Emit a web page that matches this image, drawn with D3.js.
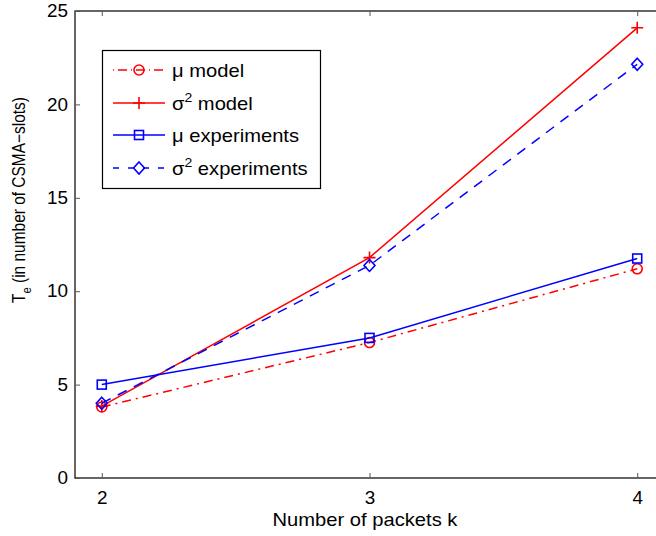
<!DOCTYPE html>
<html>
<head>
<meta charset="utf-8">
<script src="https://cdn.jsdelivr.net/npm/d3@7"></script>
<style>
  body { margin: 0; background: #fff; }
  svg { font-family: "Liberation Sans", Arial, sans-serif; }
</style>
</head>
<body>
<div class="chart"></div>
<script>
// values
var packets = [2, 3, 4];
var muModel = [3.8, 7.25, 11.2];
var sigmaModel = [3.85, 11.8, 24.1];
var muExp = [5.0, 7.5, 11.75];
var sigmaExp = [4.0, 11.38, 22.15];
var yTicks = [0, 5, 10, 15, 20, 25];
var seriesNames = ["μ model", "σ2 model", "μ experiments", "σ2 experiments"];

var width = 656, height = 536;
var margin = { top: 11, right: -8, bottom: 58, left: 75 };
var sx = 1.12; // the source figure is a little wider than tall, text too

var x = d3.scaleLinear().domain([1.9, 4.1]).range([margin.left, width - margin.right]);
var y = d3.scaleLinear().domain([0, 25]).range([height - margin.bottom, margin.top]);

var svg = d3.select(".chart")
  .append("svg")
  .attr("width", width)
  .attr("height", height);

// series table built from the arrays above
var series = [
  { name: seriesNames[0], base: "μ", sup: "", values: muModel, color: "#ff0000", dash: "9,5,2,5", marker: "circle" },
  { name: seriesNames[1], base: "σ", sup: "2", values: sigmaModel, color: "#ff0000", dash: null, marker: "plus" },
  { name: seriesNames[2], base: "μ", sup: "", values: muExp, color: "#0000ff", dash: null, marker: "square" },
  { name: seriesNames[3], base: "σ", sup: "2", values: sigmaExp, color: "#0000ff", dash: "10,8", marker: "diamond" }
];

// text placed at (tx,ty) and stretched sideways
function addText(parent, tx, ty, size) {
  return parent.append("text")
    .attr("transform", "translate(" + tx + "," + ty + ") scale(" + sx + ",1)")
    .attr("font-size", size);
}

// axes box
var x0 = x.range()[0], x1 = x.range()[1], y0 = y.range()[0], y1 = y.range()[1];
svg.append("rect")
  .attr("x", x0).attr("y", y1)
  .attr("width", x1 - x0).attr("height", y0 - y1)
  .attr("fill", "none").attr("stroke", "#000").attr("stroke-width", 1.2);

// bottom axis (ticks inside)
var xAxis = svg.append("g")
  .attr("transform", "translate(0," + y0 + ")")
  .call(d3.axisBottom(x).tickValues(packets).tickSize(-5).tickPadding(13).tickFormat(d3.format("d")));
xAxis.select(".domain").remove();
xAxis.selectAll("line").attr("stroke", "#555");
xAxis.selectAll("text")
  .attr("font-size", 18).attr("fill", "#000")
  .attr("font-family", "Liberation Sans, Arial, sans-serif")
  .attr("transform", "scale(1.05,1)");

// top ticks
var xTop = svg.append("g")
  .attr("transform", "translate(0," + y1 + ")")
  .call(d3.axisTop(x).tickValues(packets).tickSize(-5).tickFormat(""));
xTop.select(".domain").remove();
xTop.selectAll("line").attr("stroke", "#555");

// left axis
var yAxis = svg.append("g")
  .attr("transform", "translate(" + x0 + ",0)")
  .call(d3.axisLeft(y).tickValues(yTicks).tickSize(-5).tickPadding(7));
yAxis.select(".domain").remove();
yAxis.selectAll("line").attr("stroke", "#555");
yAxis.selectAll("text")
  .attr("font-size", 18).attr("fill", "#000")
  .attr("font-family", "Liberation Sans, Arial, sans-serif")
  .attr("x", -7 / 1.05)
  .attr("transform", "scale(1.05,1)");

// axis titles
addText(svg, 365, 526, 18)
  .attr("text-anchor", "middle")
  .text("Number of packets k");

var ylab = svg.append("text")
  .attr("transform", "translate(25,200) rotate(-90) scale(0.86,1)")
  .attr("text-anchor", "middle")
  .attr("font-size", 18);
ylab.append("tspan").text("T");
ylab.append("tspan").attr("font-size", 13).attr("dy", 6).text("e");
ylab.append("tspan").attr("dy", -6).text(" (in number of CSMA\u2212slots)");

// markers
function drawMarker(g, type, cx, cy, color) {
  if (type == "circle") {
    g.append("circle").attr("cx", cx).attr("cy", cy).attr("r", 5)
      .attr("fill", "none").attr("stroke", color).attr("stroke-width", 1.6);
  } else if (type == "square") {
    g.append("rect").attr("x", cx - 4.5).attr("y", cy - 4.5).attr("width", 9).attr("height", 9)
      .attr("fill", "none").attr("stroke", color).attr("stroke-width", 1.6);
  } else if (type == "diamond") {
    g.append("path")
      .attr("d", "M" + cx + "," + (cy - 6) + "L" + (cx + 5.5) + "," + cy + "L" + cx + "," + (cy + 6) + "L" + (cx - 5.5) + "," + cy + "Z")
      .attr("fill", "none").attr("stroke", color).attr("stroke-width", 1.6);
  } else if (type == "plus") {
    g.append("path")
      .attr("d", "M" + (cx - 6) + "," + cy + "H" + (cx + 6) + "M" + cx + "," + (cy - 6) + "V" + (cy + 6))
      .attr("fill", "none").attr("stroke", color).attr("stroke-width", 1.6);
  }
}

var line = d3.line()
  .x(function (d) { return x(d[0]); })
  .y(function (d) { return y(d[1]); });

var plot = svg.append("g");
series.forEach(function (s) {
  var pts = packets.map(function (p, i) { return [p, s.values[i]]; });
  plot.append("path")
    .datum(pts)
    .attr("d", line)
    .attr("fill", "none")
    .attr("stroke", s.color)
    .attr("stroke-width", 1.5)
    .attr("stroke-dasharray", s.dash);
  pts.forEach(function (d) {
    drawMarker(plot, s.marker, x(d[0]), y(d[1]), s.color);
  });
});

// legend
var legend = svg.append("g");
legend.append("rect")
  .attr("x", 102.5).attr("y", 50.5)
  .attr("width", 218).attr("height", 138)
  .attr("fill", "#fff").attr("stroke", "#000").attr("stroke-width", 1.2);

var rowY = [70, 103, 135, 168];
series.forEach(function (s, i) {
  var ly = rowY[i];
  legend.append("line")
    .attr("x1", 113).attr("x2", 165).attr("y1", ly).attr("y2", ly)
    .attr("stroke", s.color).attr("stroke-width", 1.5)
    .attr("stroke-dasharray", s.marker == "circle" ? "1,4,9,4" : (s.marker == "diamond" ? "6,9" : null));
  drawMarker(legend, s.marker, 139, ly, s.color);
  var t = addText(legend, 172, ly + 6.5, 18);
  t.append("tspan").text(s.base);
  if (s.sup) {
    t.append("tspan").attr("font-size", 12.5).attr("dy", -8).text(s.sup);
    t.append("tspan").attr("dy", 8).text(" " + s.name.slice(3));
  } else {
    t.append("tspan").text(" " + s.name.slice(2));
  }
});
</script>
</body>
</html>
